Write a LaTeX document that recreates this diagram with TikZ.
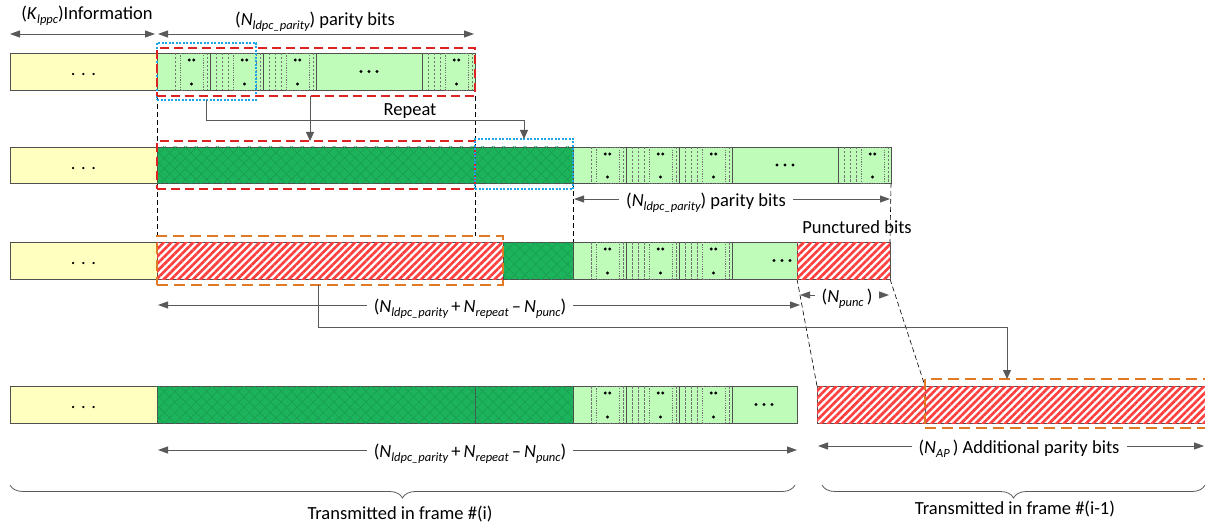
\documentclass[tikz,border=0pt]{standalone}
\usepackage{fontspec}
\setmainfont{Carlito}
\usetikzlibrary{arrows.meta,patterns.meta,decorations.pathreplacing,backgrounds}
\definecolor{ylw}{HTML}{FFFFC0}
\definecolor{lgrn}{HTML}{BFFBB9}
\definecolor{dgrn}{HTML}{1DB35C}
\definecolor{dgrnl}{HTML}{169C4D}
\definecolor{hred}{HTML}{FF4040}
\definecolor{bgray}{HTML}{505050}
\definecolor{agray}{HTML}{595959}
\definecolor{rdash}{HTML}{DD2222}
\definecolor{odash}{HTML}{E07A25}
\definecolor{bdot}{HTML}{1EA5E6}
\newcommand\mysub[1]{\raisebox{-4pt}{\fontsize{12.5}{13}\selectfont\itshape #1}}
\newcommand\pgrp[4]{%
  \foreach \d in {#4} {\draw[dsep] (#1+\d,#2) -- (#1+\d,#2+#3);}
  \draw[dbox] (#1+23,#2) rectangle (#1+46,#2+#3);
  \draw[dsep] (#1+50,#2) -- (#1+50,#2+#3);
  \fill[black] (#1+32.3,#2+7) circle (1.6pt) (#1+36.7,#2+7) circle (1.6pt) (#1+34.5,#2+#3-6) circle (1.6pt);
  \draw[ssep] (#1+53,#2) -- (#1+53,#2+#3);
}
\newcommand\bigdots[2]{\fill[black] (#1-8,#2) circle (1.7pt) (#1,#2) circle (1.7pt) (#1+8,#2) circle (1.7pt);}
\begin{document}
\begin{tikzpicture}[x=1pt,y=-1pt,font=\fontsize{18.5}{22}\selectfont,
 seg/.style={draw=bgray,line width=0.7pt,anchor=north west,inner sep=0pt,outer sep=0pt,text height=8pt,text depth=0pt},
 ybar/.style={seg,fill=ylw},
 lbar/.style={seg,fill=lgrn},
 dbar/.style={seg,fill=dgrn,postaction={pattern={Hatch[angle=45,distance=7.5pt,line width=0.5pt]},pattern color=dgrnl}},
 hbar/.style={seg,fill=white,postaction={pattern={Lines[angle=45,distance=5.2pt,line width=2.7pt]},pattern color=hred}},
 ob/.style={anchor=north west,inner sep=0pt,outer sep=0pt},
 rbox/.style={ob,draw=rdash,line width=1.6pt,dash pattern=on 9pt off 5pt},
 obox/.style={ob,draw=odash,line width=1.8pt,dash pattern=on 11pt off 6pt},
 bbox/.style={ob,draw=bdot,line width=1.3pt,dash pattern=on 2pt off 1.5pt},
 guide/.style={draw=black,line width=0.6pt,dash pattern=on 5pt off 3pt},
 conn/.style={draw=agray,line width=0.9pt,-{Triangle[length=9pt,width=8pt]}},
 dim/.style={draw=agray,line width=0.9pt,{Triangle[length=10pt,width=7pt]}-{Triangle[length=10pt,width=7pt]}},
 lbl/.style={inner sep=0pt,anchor=base},
 dlbl/.style={lbl,fill=white,inner xsep=7pt,inner ysep=2pt},
 dsep/.style={draw=bgray!80,line width=0.5pt,dash pattern=on 2.5pt off 1.5pt},
 dbox/.style={draw=bgray!80,line width=0.5pt,dash pattern=on 1.2pt off 1.2pt},
 ssep/.style={draw=bgray,line width=0.7pt},
 brc/.style={draw=agray,line width=0.8pt,decorate,decoration={brace,mirror,amplitude=13pt}}]
\useasboundingbox (0,0) rectangle (1205,524);

% Row 1
\node[ybar,minimum width=147pt,minimum height=37pt] (y1) at (10,53) {. . .};
\node[lbar,minimum width=318pt,minimum height=37pt] (g1) at (157,53) {};
% Row 2
\node[ybar,minimum width=147pt,minimum height=36pt] (y2) at (10,147) {. . .};
\node[dbar,minimum width=318pt,minimum height=36pt] (d2a) at (157,147) {};
\node[dbar,minimum width=98pt,minimum height=36pt] (d2b) at (475,147) {};
\node[lbar,minimum width=318pt,minimum height=36pt] (g2) at (573,147) {};
% Row 3
\node[ybar,minimum width=147pt,minimum height=37pt] (y3) at (10,242) {. . .};
\node[hbar,minimum width=346pt,minimum height=37pt] (h3a) at (157,242) {};
\node[dbar,minimum width=70pt,minimum height=37pt] (d3) at (503,242) {};
\node[lbar,minimum width=224pt,minimum height=37pt] (g3) at (573,242) {};
\node[hbar,minimum width=93pt,minimum height=37pt] (h3b) at (797,242) {};
% Row 4
\node[ybar,minimum width=147pt,minimum height=37pt] (y4) at (10,386) {. . .};
\node[dbar,minimum width=318pt,minimum height=37pt] (d4a) at (157,386) {};
\node[dbar,minimum width=98pt,minimum height=37pt] (d4b) at (475,386) {};
\node[lbar,minimum width=224pt,minimum height=37pt] (g4) at (573,386) {};
\node[hbar,minimum width=108pt,minimum height=37pt] (h4a) at (817,386) {};
\node[hbar,minimum width=290pt,minimum height=37pt] (h4b) at (925,386) {};

% parity groups
\pgrp{157}{53}{37}{18}\pgrp{210}{53}{37}{6,12,18}\pgrp{263}{53}{37}{6,12,18}
\bigdots{369}{71.5}\draw[ssep] (422,53) -- (422,90);
\pgrp{422}{53}{37}{6,12,18}
\pgrp{573}{147}{36}{18}\pgrp{626}{147}{36}{6,12,18}\pgrp{679}{147}{36}{6,12,18}
\bigdots{785}{165}\draw[ssep] (838,147) -- (838,183);
\pgrp{838}{147}{36}{6,12,18}
\pgrp{573}{242}{37}{18}\pgrp{626}{242}{37}{6,12,18}\pgrp{679}{242}{37}{6,12,18}
\bigdots{782}{260.5}
\pgrp{573}{386}{37}{18}\pgrp{626}{386}{37}{6,12,18}\pgrp{679}{386}{37}{6,12,18}
\bigdots{764}{404.5}

% outline boxes
\node[bbox,minimum width=99pt,minimum height=57pt] (b1) at (157,43) {};
\node[rbox,minimum width=318pt,minimum height=48pt] (r1) at (157,48) {};
\node[rbox,minimum width=318pt,minimum height=48pt] (r2) at (157,141) {};
\node[bbox,minimum width=98pt,minimum height=50pt] (b2) at (475,139) {};
\node[obox,minimum width=346pt,minimum height=49pt] (o3) at (157,236) {};
\node[obox,minimum width=290pt,minimum height=49pt] (o4) at (925,379) {};

% guides
\begin{pgfonlayer}{background}
\draw[guide] (r1.south west) -- (o3.north west);
\draw[guide] (r1.south east) -- (r1.south east |- o3.north);
\draw[guide] (g2.south west) -- (g3.north west);
\draw[guide] (g2.south east) -- (h3b.north east);
\draw[guide] (h3b.south west) -- (h4a.north west);
\draw[guide] (h3b.south east) -- (h4a.north east);
\end{pgfonlayer}

% connectors
\draw[conn] (b1.south) -- ++(0,20) -| (b2.north);
\draw[conn] ([xshift=-6pt]r1.south) -- ([xshift=-6pt]r2.north);
\draw[conn] ([xshift=-12pt]o3.south) -- ++(0,42) -| ([xshift=-63pt]o4.north);
\node[lbl] (rep) at (410,116) {Repeat};
\node[lbl] (pb) at (857,233) {Punctured bits};

% dimensions
\draw[dim] (10,34) -- (155,34);
\draw[dim] (158,34) -- (474,34);
\node[lbl] (kl) at (87,20) {(\textit{K}\mysub{lppc})Information};
\node[lbl] (nl) at (315,26) {(\textit{N}\mysub{ldpc\_parity}) parity bits};
\draw[dim] (574,199) -- (890,199);
\node[dlbl] (nl2) at (706,206) {(\textit{N}\mysub{ldpc\_parity}) parity bits};
\draw[dim] (158,305) -- (800,305);
\node[dlbl] (s3) at (470,312) {(\textit{N}\mysub{ldpc\_parity}\,+\,\textit{N}\mysub{repeat}\,–\,\textit{N}\mysub{punc})};
\draw[dim] (800,295) -- (889,295);
\node[dlbl] (np) at (847,302) {(\textit{N}\mysub{punc}\,)};
\draw[dim] (158,450) -- (797,450);
\node[dlbl] (s4) at (470,457) {(\textit{N}\mysub{ldpc\_parity}\,+\,\textit{N}\mysub{repeat}\,–\,\textit{N}\mysub{punc})};
\draw[dim] (818,446) -- (1204,446);
\node[dlbl] (nap) at (1019,453) {(\textit{N}\mysub{AP}\,) Additional parity bits};

% braces
\draw[brc] (10,485) -- (795,485);
\draw[brc] (822,485) -- (1205,485);
\node[lbl] (t1) at (400,519) {Transmitted in frame \#(i)};
\node[lbl] (t2) at (1015,514) {Transmitted in frame \#(i-1)};
\end{tikzpicture}
\end{document}
